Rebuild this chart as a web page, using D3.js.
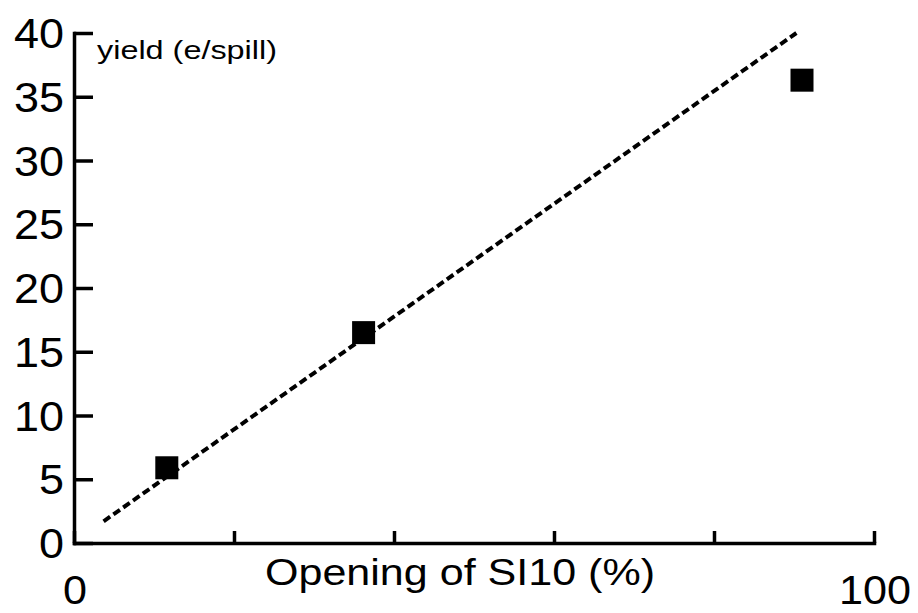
<!DOCTYPE html>
<html>
<head>
<meta charset="utf-8">
<script src="https://cdn.jsdelivr.net/npm/d3@7"></script>
<style>
body { margin: 0; background: #fff; }
text { font-family: "Liberation Sans", Arial, sans-serif; fill: #000; }
</style>
</head>
<body>
<svg id="chart"></svg>
<script>
// measured points (opening %, yield)
var opening = [11.6, 36.2, 91.0];
var yieldVals = [5.9, 16.5, 36.3];
// fitted line end points
var fitX = [3.7, 90.3];
var fitY = [1.7, 40.0];
var yTicks = [0, 5, 10, 15, 20, 25, 30, 35, 40];
var xTicks = [0, 20, 40, 60, 80, 100];
var xLabels = [0, 100];

var W = 918, H = 613;
var svg = d3.select('#chart').attr('width', W).attr('height', H);

var x = d3.scaleLinear().domain([0, 100]).range([74, 874]);
var y = d3.scaleLinear().domain([0, 40]).range([543, 33]);

var digitW = 25; // stretched digit width in the original

// y axis: ticks point inward (right)
var yAxis = svg.append('g').attr('transform', 'translate(' + x(0) + ',0)')
	.call(d3.axisRight(y).tickValues(yTicks).tickSize(19).tickFormat('').tickSizeOuter(0));
// x axis: ticks point inward (up)
var xAxis = svg.append('g').attr('transform', 'translate(0,' + y(0) + ')')
	.call(d3.axisTop(x).tickValues(xTicks).tickSize(12).tickFormat('').tickSizeOuter(0));

[yAxis, xAxis].forEach(function(a) {
	a.select('.domain').attr('stroke', '#000').attr('stroke-width', 3.5).attr('stroke-linecap', 'square');
	a.selectAll('.tick line').attr('stroke', '#000').attr('stroke-width', 3.5);
});

svg.append('g').selectAll('text').data(yTicks).enter().append('text')
	.attr('x', 64)
	.attr('y', d => y(d) + 15)
	.attr('text-anchor', 'end')
	.attr('font-size', 42)
	.attr('textLength', d => String(d).length * digitW)
	.attr('lengthAdjust', 'spacingAndGlyphs')
	.text(d => d);

svg.append('g').selectAll('text').data(xLabels).enter().append('text')
	.attr('x', d => x(d) + 1)
	.attr('y', 604)
	.attr('text-anchor', 'middle')
	.attr('font-size', 41)
	.attr('textLength', d => String(d).length * 24)
	.attr('lengthAdjust', 'spacingAndGlyphs')
	.text(d => d);

svg.append('text')
	.attr('x', 265).attr('y', 585)
	.attr('font-size', 37)
	.attr('textLength', 390)
	.attr('lengthAdjust', 'spacingAndGlyphs')
	.text('Opening of SI10 (%)');

svg.append('text')
	.attr('x', 97).attr('y', 59)
	.attr('font-size', 26)
	.attr('textLength', 180)
	.attr('lengthAdjust', 'spacingAndGlyphs')
	.text('yield (e/spill)');

// fitted line
svg.append('line')
	.attr('x1', x(fitX[0])).attr('y1', y(fitY[0]))
	.attr('x2', x(fitX[1])).attr('y2', y(fitY[1]))
	.attr('stroke', '#000').attr('stroke-width', 4)
	.attr('stroke-dasharray', '8,4');

// data squares
var s = 23;
svg.append('g').selectAll('rect').data(opening).enter().append('rect')
	.attr('x', d => x(d) - s / 2)
	.attr('y', (d, i) => y(yieldVals[i]) - s / 2)
	.attr('width', s).attr('height', s)
	.attr('fill', '#000');
</script>
</body>
</html>
